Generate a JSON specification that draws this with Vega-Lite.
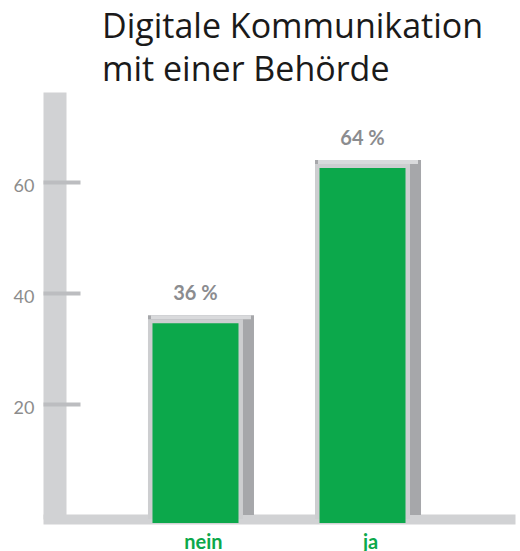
{
  "$schema": "https://vega.github.io/schema/vega-lite/v6.json",
  "autosize": {"type": "none"},
  "padding": {"left": 43, "top": 92, "right": 5, "bottom": 32},
  "width": 472,
  "height": 427,
  "background": "#ffffff",
  "title": {
    "text": ["Digitale Kommunikation", "mit einer Behörde"],
    "anchor": "start",
    "frame": "group",
    "dx": 59,
    "font": "Open Sans",
    "fontSize": 34,
    "fontWeight": "normal",
    "lineHeight": 43,
    "color": "#1a1a1a"
  },
  "data": {
    "values": [
      {"answer": "nein", "value": 36, "label": "36 %"},
      {"answer": "ja", "value": 64, "label": "64 %"}
    ]
  },
  "encoding": {
    "x": {
      "field": "answer",
      "type": "nominal",
      "sort": null,
      "scale": {"paddingInner": 0.3, "paddingOuter": 0.563},
      "title": null
    }
  },
  "layer": [
    {
      "mark": {"type": "bar", "color": "#a6a7aa", "size": 106, "xOffset": 5.5, "yOffset": -4},
      "encoding": {
        "y": {
          "field": "value",
          "type": "quantitative",
          "scale": {"domain": [0, 77], "nice": false},
          "axis": {
            "orient": "left",
            "offset": -11.5,
            "domain": true,
            "domainWidth": 23,
            "domainColor": "#d1d2d4",
            "ticks": false,
            "labels": false,
            "grid": false,
            "title": null
          }
        }
      }
    },
    {
      "mark": {"type": "bar", "color": "#d9dadc", "size": 100, "xOffset": 5.5, "yOffset": -4, "y2Offset": 0},
      "encoding": {
        "y": {"field": "value", "type": "quantitative", "axis": null},
        "y2": {"field": "value"}
      }
    },
    {
      "mark": {"type": "bar", "color": "#cdced0", "size": 95},
      "encoding": {
        "y": {
          "field": "value",
          "type": "quantitative",
          "axis": {
            "orient": "left",
            "offset": -37,
            "domain": false,
            "ticks": true,
            "tickSize": 37,
            "tickWidth": 4,
            "tickColor": "#bcbdc0",
            "tickOffset": -4,
            "labelOffset": 4,
            "values": [20, 40, 60],
            "labelFont": "Lato",
            "labelFontSize": 18,
            "labelColor": "#8c8c8c",
            "labelPadding": 9,
            "grid": false,
            "title": null
          }
        }
      }
    },
    {
      "mark": {"type": "bar", "color": "#0ca84b", "size": 86, "yOffset": 4, "y2Offset": -2},
      "encoding": {
        "y": {"field": "value", "type": "quantitative", "axis": null}
      }
    },
    {
      "mark": {
        "type": "text",
        "font": "Lato",
        "fontSize": 20,
        "fontWeight": "bold",
        "color": "#8b8c8f",
        "baseline": "alphabetic",
        "dy": -19
      },
      "encoding": {
        "y": {"field": "value", "type": "quantitative", "axis": null},
        "text": {"field": "label"}
      }
    }
  ],
  "resolve": {"axis": {"y": "independent"}},
  "config": {
    "view": {"stroke": null},
    "axisX": {
      "domain": true,
      "domainWidth": 10,
      "domainColor": "#d1d2d4",
      "ticks": false,
      "tickSize": 0,
      "grid": false,
      "labelAngle": 0,
      "labelFont": "Lato",
      "labelFontSize": 20,
      "labelFontWeight": "bold",
      "labelColor": "#0ca84b",
      "labelPadding": 13,
      "labelOffset": 8
    }
  }
}
